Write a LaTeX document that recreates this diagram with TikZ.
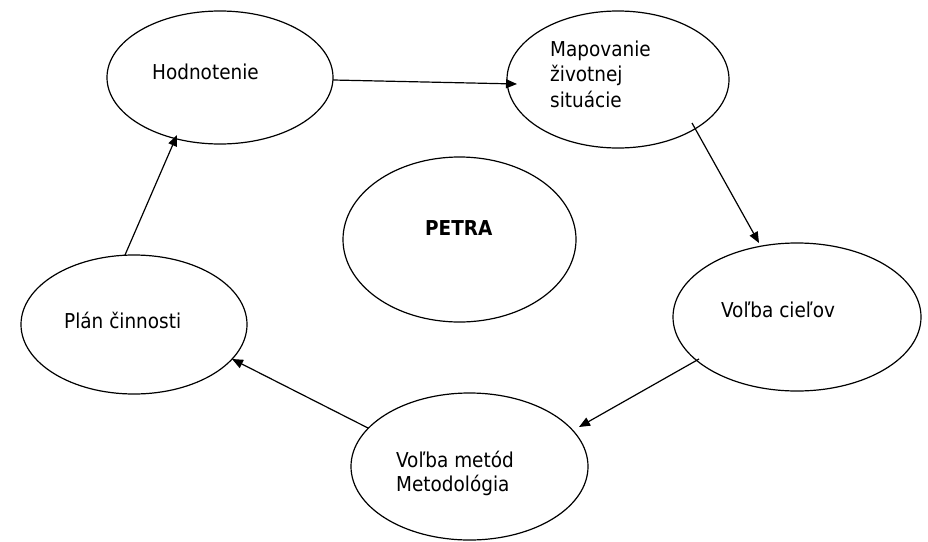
\documentclass[tikz,border=0pt]{standalone}
\usepackage{fontspec}
\setmainfont{DejaVu Sans Condensed}
\usetikzlibrary{shapes.geometric,arrows.meta,calc}
\begin{document}
\begin{tikzpicture}[x=1pt,y=-1pt,
  bubble/.style={draw=black,ellipse,line width=1.2pt,inner sep=0pt,outer sep=0pt},
  lbl/.style={inner sep=0pt,anchor=base west,font=\fontsize{20.5}{25}\selectfont},
  conn/.style={draw=black,line width=1.2pt,-{Triangle[length=11pt,width=9pt]}}]
\useasboundingbox (0,0) rectangle (928,541);
% ellipses
\node[bubble,minimum width=226pt,minimum height=133pt] (hod) at (220,77.5) {};
\node[bubble,minimum width=222pt,minimum height=137pt] (map) at (618,79.5) {};
\node[bubble,minimum width=233pt,minimum height=165pt] (petra) at (459.5,239.5) {};
\node[bubble,minimum width=248pt,minimum height=148pt] (ciel) at (797,317) {};
\node[bubble,minimum width=237pt,minimum height=147pt] (met) at (469.5,466.5) {};
\node[bubble,minimum width=226pt,minimum height=139pt] (plan) at (134,324.5) {};
% labels
\node[lbl] (hodT) at (152,79) {Hodnotenie};
\node[lbl] (mapT1) at (550,56) {Mapovanie};
\node[lbl] (mapT2) at (550,81.5) {životnej};
\node[lbl] (mapT3) at (550,107) {situácie};
\node[lbl,font=\fontsize{20.5}{25}\selectfont\bfseries] (petraT) at (425,235) {PETRA};
\node[lbl] (cielT) at (721,317) {Voľba cieľov};
\node[lbl] (metT1) at (396,467) {Voľba metód};
\node[lbl] (metT2) at (396,491) {Metodológia};
\node[lbl] (planT) at (64,328) {Plán činnosti};
% connectors
\draw[conn] ($(hod.center)+(113,2.5)$) -- ($(map.center)+(-101,4.5)$);
\draw[conn] ($(map.center)+(74,43.5)$) -- ($(ciel.center)+(-38,-74)$);
\draw[conn] ($(ciel.center)+(-98,42)$) -- ($(met.center)+(109.5,-39.5)$);
\draw[conn] ($(met.center)+(-101.5,-38.5)$) -- ($(plan.center)+(98,34.5)$);
\draw[conn] ($(plan.center)+(-9,-69.5)$) -- ($(hod.center)+(-43,57.5)$);
\end{tikzpicture}
\end{document}
